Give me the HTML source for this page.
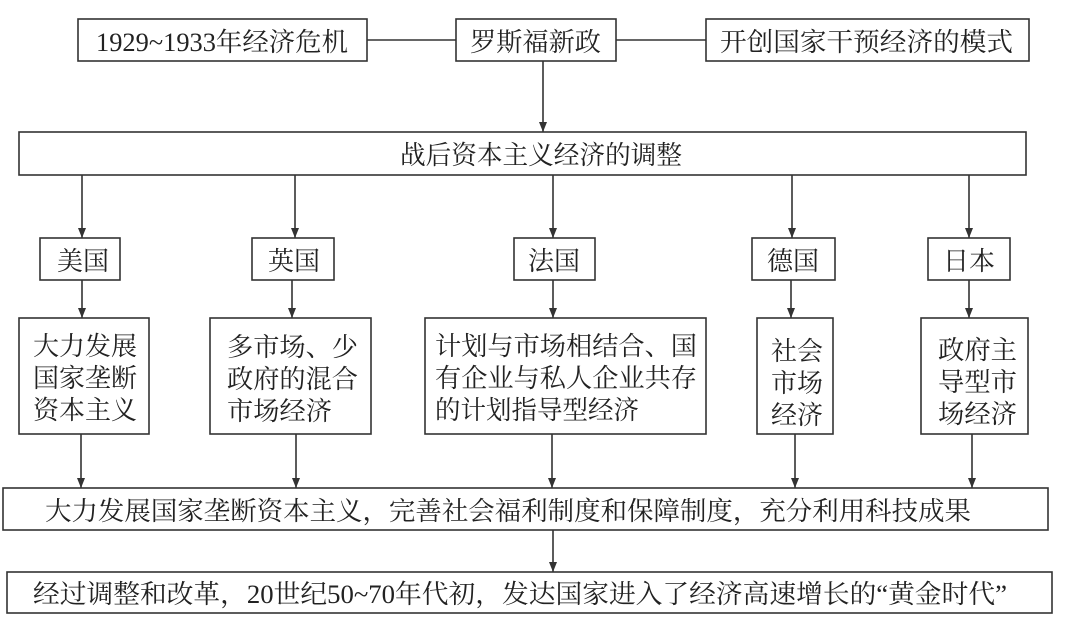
<!DOCTYPE html>
<html><head><meta charset="utf-8"><style>
html,body{margin:0;padding:0;background:#fff;width:1080px;height:640px;overflow:hidden}
svg text{font-family:"Liberation Serif","Noto Serif CJK SC","Noto Sans CJK SC",serif;font-size:26px;fill:#222}
</style></head><body>
<svg width="1080" height="640" viewBox="0 0 1080 640" xmlns="http://www.w3.org/2000/svg">
<defs><marker id="a" markerWidth="10" markerHeight="8" refX="10" refY="4" orient="auto" markerUnits="userSpaceOnUse" viewBox="0 0 10 8"><path d="M0,0 L10,4 L0,8 Z" fill="#333"/></marker></defs>
<g fill="none" stroke="#333" stroke-width="1.6">
<rect x="78" y="19" width="289" height="42"/>
<rect x="456" y="19" width="160" height="42"/>
<rect x="706" y="19" width="323" height="42"/>
<line x1="367" y1="40" x2="456" y2="40"/>
<line x1="616" y1="40" x2="706" y2="40"/>
<rect x="19" y="132" width="1007" height="43"/>
<rect x="40" y="238" width="80" height="42"/>
<rect x="252" y="238" width="82" height="42"/>
<rect x="514" y="238" width="81" height="42"/>
<rect x="752" y="238" width="83" height="42"/>
<rect x="928" y="238" width="82" height="42"/>
<rect x="19" y="318" width="130" height="116"/>
<rect x="210" y="318" width="161" height="116"/>
<rect x="425" y="318" width="281" height="116"/>
<rect x="757" y="318" width="76" height="116"/>
<rect x="921" y="318" width="107" height="116"/>
<rect x="3" y="488" width="1045" height="42"/>
<rect x="7" y="572" width="1045" height="41"/>
<line x1="543" y1="61" x2="543" y2="132" marker-end="url(#a)"/>
<line x1="82" y1="175" x2="82" y2="238" marker-end="url(#a)"/>
<line x1="295" y1="175" x2="295" y2="238" marker-end="url(#a)"/>
<line x1="553" y1="175" x2="553" y2="238" marker-end="url(#a)"/>
<line x1="792" y1="175" x2="792" y2="238" marker-end="url(#a)"/>
<line x1="969" y1="175" x2="969" y2="238" marker-end="url(#a)"/>
<line x1="82" y1="280" x2="82" y2="318" marker-end="url(#a)"/>
<line x1="292" y1="280" x2="292" y2="318" marker-end="url(#a)"/>
<line x1="553" y1="280" x2="553" y2="318" marker-end="url(#a)"/>
<line x1="791" y1="280" x2="791" y2="318" marker-end="url(#a)"/>
<line x1="969" y1="280" x2="969" y2="318" marker-end="url(#a)"/>
<line x1="81" y1="434" x2="81" y2="488" marker-end="url(#a)"/>
<line x1="296" y1="434" x2="296" y2="488" marker-end="url(#a)"/>
<line x1="552" y1="434" x2="552" y2="488" marker-end="url(#a)"/>
<line x1="795" y1="434" x2="795" y2="488" marker-end="url(#a)"/>
<line x1="972" y1="434" x2="972" y2="488" marker-end="url(#a)"/>
<line x1="553" y1="530" x2="553" y2="572" marker-end="url(#a)"/>
</g>
<text x="96" y="51" textLength="252" lengthAdjust="spacingAndGlyphs">1929~1933年经济危机</text>
<text x="470" y="51" textLength="131" lengthAdjust="spacingAndGlyphs">罗斯福新政</text>
<text x="720" y="51" textLength="293" lengthAdjust="spacingAndGlyphs">开创国家干预经济的模式</text>
<text x="400" y="164" textLength="282" lengthAdjust="spacingAndGlyphs">战后资本主义经济的调整</text>
<text x="57" y="270" textLength="52" lengthAdjust="spacingAndGlyphs">美国</text>
<text x="268" y="270" textLength="52" lengthAdjust="spacingAndGlyphs">英国</text>
<text x="528" y="270" textLength="52" lengthAdjust="spacingAndGlyphs">法国</text>
<text x="767" y="270" textLength="52" lengthAdjust="spacingAndGlyphs">德国</text>
<text x="943" y="270" textLength="52" lengthAdjust="spacingAndGlyphs">日本</text>
<text x="33" y="355" textLength="104" lengthAdjust="spacingAndGlyphs">大力发展</text>
<text x="33" y="387" textLength="104" lengthAdjust="spacingAndGlyphs">国家垄断</text>
<text x="33" y="419" textLength="104" lengthAdjust="spacingAndGlyphs">资本主义</text>
<text x="227" y="356" textLength="131" lengthAdjust="spacingAndGlyphs">多市场、少</text>
<text x="227" y="388" textLength="131" lengthAdjust="spacingAndGlyphs">政府的混合</text>
<text x="227" y="420" textLength="105" lengthAdjust="spacingAndGlyphs">市场经济</text>
<text x="435" y="355" textLength="262" lengthAdjust="spacingAndGlyphs">计划与市场相结合、国</text>
<text x="435" y="387" textLength="262" lengthAdjust="spacingAndGlyphs">有企业与私人企业共存</text>
<text x="435" y="419" textLength="204" lengthAdjust="spacingAndGlyphs">的计划指导型经济</text>
<text x="771" y="360" textLength="52" lengthAdjust="spacingAndGlyphs">社会</text>
<text x="771" y="392" textLength="52" lengthAdjust="spacingAndGlyphs">市场</text>
<text x="771" y="424" textLength="52" lengthAdjust="spacingAndGlyphs">经济</text>
<text x="938" y="359" textLength="79" lengthAdjust="spacingAndGlyphs">政府主</text>
<text x="938" y="391" textLength="79" lengthAdjust="spacingAndGlyphs">导型市</text>
<text x="938" y="423" textLength="79" lengthAdjust="spacingAndGlyphs">场经济</text>
<text x="45" y="520" textLength="926" lengthAdjust="spacingAndGlyphs">大力发展国家垄断资本主义，完善社会福利制度和保障制度，充分利用科技成果</text>
<text x="33" y="603" textLength="974" lengthAdjust="spacingAndGlyphs">经过调整和改革，20世纪50~70年代初，发达国家进入了经济高速增长的“黄金时代”</text>
</svg>
</body></html>
